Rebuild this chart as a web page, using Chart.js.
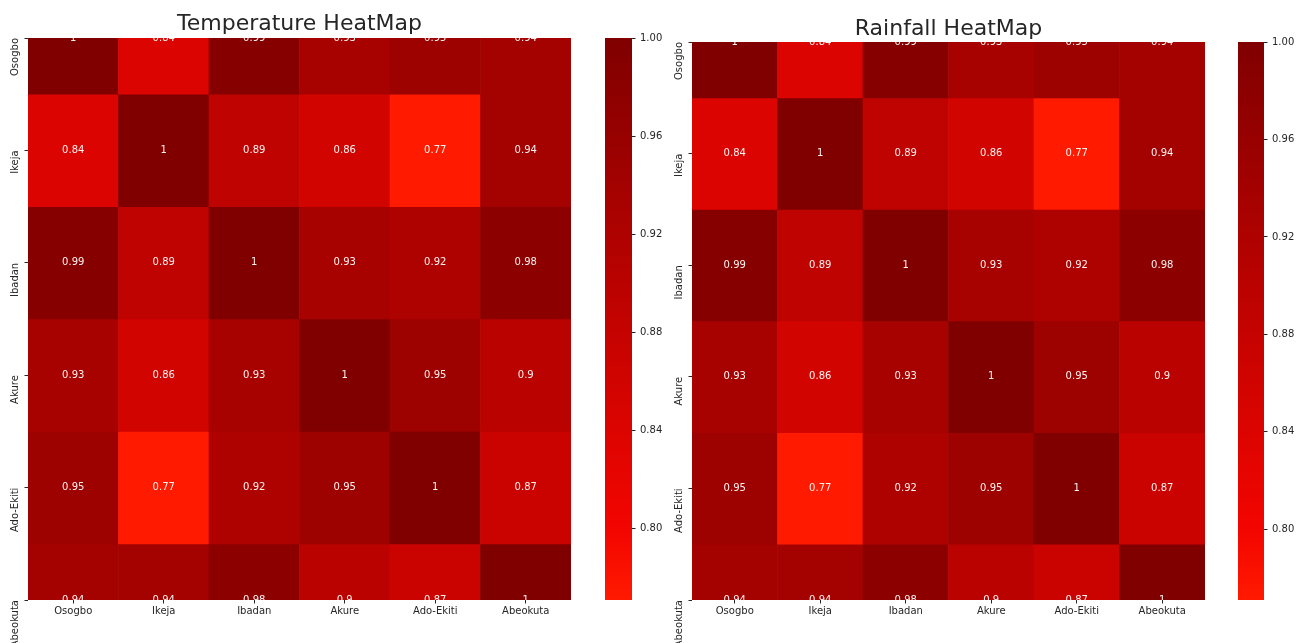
<!DOCTYPE html>
<html>
<head>
<meta charset="utf-8">
<script src="https://cdn.jsdelivr.net/npm/chart.js@4.4.1/dist/chart.umd.min.js"></script>
<style>
  html, body { margin: 0; padding: 0; background: #ffffff; }
  body { width: 1302px; height: 643px; position: relative; overflow: hidden; }
  canvas { position: absolute; top: 0; }
</style>
</head>
<body>
<canvas id="tempHeat" width="590" height="643" style="left:0px"></canvas>
<canvas id="tempBar" width="80" height="643" style="left:590px"></canvas>
<canvas id="rainHeat" width="575" height="643" style="left:650px"></canvas>
<canvas id="rainBar" width="77" height="643" style="left:1225px"></canvas>
<script>
// ---------------- data ----------------
const cities = ['Osogbo', 'Ikeja', 'Ibadan', 'Akure', 'Ado-Ekiti', 'Abeokuta'];

const tempOsogbo   = [1, 0.84, 0.99, 0.93, 0.95, 0.94];
const tempIkeja    = [0.84, 1, 0.89, 0.86, 0.77, 0.94];
const tempIbadan   = [0.99, 0.89, 1, 0.93, 0.92, 0.98];
const tempAkure    = [0.93, 0.86, 0.93, 1, 0.95, 0.9];
const tempAdoEkiti = [0.95, 0.77, 0.92, 0.95, 1, 0.87];
const tempAbeokuta = [0.94, 0.94, 0.98, 0.9, 0.87, 1];

const rainOsogbo   = [1, 0.84, 0.99, 0.93, 0.95, 0.94];
const rainIkeja    = [0.84, 1, 0.89, 0.86, 0.77, 0.94];
const rainIbadan   = [0.99, 0.89, 1, 0.93, 0.92, 0.98];
const rainAkure    = [0.93, 0.86, 0.93, 1, 0.95, 0.9];
const rainAdoEkiti = [0.95, 0.77, 0.92, 0.95, 1, 0.87];
const rainAbeokuta = [0.94, 0.94, 0.98, 0.9, 0.87, 1];

const colorbarTicks = [0.80, 0.84, 0.88, 0.92, 0.96, 1.00];
const colorbarMin = 0.771;
const colorbarMax = 1.0;

// ---------------- style ----------------
const FONT = "'DejaVu Sans', 'Liberation Sans', sans-serif";
const TEXT = '#262626';
Chart.defaults.font.family = FONT;
Chart.defaults.font.size = 10;
Chart.defaults.color = TEXT;

const CMAP_STOPS = [
  [0.771, [255, 26, 0]],
  [0.80,  [243, 5, 0]],
  [1.00,  [128, 0, 0]]
];
function rgb(c) { return 'rgb(' + c.map(Math.round).join(',') + ')'; }
function cmap(v) {
  if (v <= CMAP_STOPS[0][0]) return rgb(CMAP_STOPS[0][1]);
  for (let k = 1; k < CMAP_STOPS.length; k++) {
    const [v1, c1] = CMAP_STOPS[k];
    const [v0, c0] = CMAP_STOPS[k - 1];
    if (v <= v1) {
      const t = (v - v0) / (v1 - v0);
      return rgb(c0.map((x, i) => x + (c1[i] - x) * t));
    }
  }
  return rgb(CMAP_STOPS[CMAP_STOPS.length - 1][1]);
}

const cellLabels = {
  id: 'cellLabels',
  afterDatasetsDraw(chart) {
    const { ctx, chartArea: a } = chart;
    ctx.save();
    ctx.beginPath();
    ctx.rect(a.left, a.top, a.right - a.left, a.bottom - a.top);
    ctx.clip();
    ctx.font = '10px ' + FONT;
    ctx.fillStyle = 'rgba(255,255,255,0.95)';
    ctx.textAlign = 'center';
    ctx.textBaseline = 'middle';
    chart.data.datasets.forEach((ds, i) => {
      chart.getDatasetMeta(i).data.forEach((el, j) => {
        const p = el.getCenterPoint();
        ctx.fillText(String(ds.values[j]), p.x, p.y);
      });
    });
    ctx.restore();
  }
};

function heatmap(id, title, rows, opt) {
  const datasets = rows.map((row, i) => ({
    data: row.map(() => [i - 0.5, i + 0.5]),
    values: row,
    backgroundColor: row.map(cmap),
    grouped: false,
    barPercentage: 1,
    categoryPercentage: 1,
    borderWidth: 0,
    clip: 0
  }));
  return new Chart(document.getElementById(id), {
    type: 'bar',
    data: { labels: cities, datasets },
    plugins: [cellLabels],
    options: {
      responsive: false,
      animation: false,
      events: [],
      layout: { padding: { left: 0, right: opt.padRight, top: 0, bottom: 0 } },
      plugins: {
        legend: { display: false },
        tooltip: { enabled: false },
        title: {
          display: true,
          text: title,
          fullSize: false,
          color: TEXT,
          font: { size: 22, lineHeight: 1, weight: 'normal' },
          padding: { top: opt.titleTop, bottom: opt.titleBottom }
        }
      },
      scales: {
        x: {
          type: 'category',
          offset: true,
          grid: { display: true, offset: false, drawOnChartArea: false, drawTicks: true, tickLength: 3.5, color: TEXT, tickColor: TEXT, lineWidth: 1 },
          border: { display: false },
          ticks: { color: TEXT, padding: 2, maxRotation: 0, minRotation: 0, autoSkip: false, font: { size: 10 } },
          afterFit: (s) => { s.height = 43; }
        },
        y: {
          type: 'linear',
          min: 0,
          max: 5,
          reverse: true,
          afterBuildTicks: (s) => { s.ticks = cities.map((c, i) => ({ value: i })); },
          grid: { display: true, drawOnChartArea: false, drawTicks: true, tickLength: 3.5, color: TEXT, tickColor: TEXT, lineWidth: 1 },
          border: { display: false },
          ticks: {
            color: TEXT,
            padding: 9,
            minRotation: 90,
            maxRotation: 90,
            crossAlign: 'near',
            autoSkip: false,
            font: { size: 10 },
            callback: (v) => cities[v]
          },
          afterFit: (s) => { s.width = opt.yWidth; }
        }
      }
    }
  });
}

function colorbar(id, opt) {
  return new Chart(document.getElementById(id), {
    type: 'bar',
    data: {
      labels: [''],
      datasets: [{
        data: [[colorbarMin, colorbarMax]],
        barPercentage: 1,
        categoryPercentage: 1,
        borderWidth: 0,
        backgroundColor: (c) => {
          const ch = c.chart;
          if (!ch.chartArea) return cmap(colorbarMax);
          const ys = ch.scales.y;
          const y0 = ys.getPixelForValue(colorbarMin);
          const y1 = ys.getPixelForValue(colorbarMax);
          const g = ch.ctx.createLinearGradient(0, y0, 0, y1);
          CMAP_STOPS.forEach(([v, col]) => {
            const t = Math.min(1, Math.max(0, (v - colorbarMin) / (colorbarMax - colorbarMin)));
            g.addColorStop(t, rgb(col));
          });
          return g;
        }
      }]
    },
    options: {
      responsive: false,
      animation: false,
      events: [],
      layout: { padding: { left: opt.padLeft, right: 0, top: opt.top, bottom: 43 } },
      plugins: { legend: { display: false }, tooltip: { enabled: false } },
      scales: {
        x: { display: false },
        y: {
          position: 'right',
          min: colorbarMin,
          max: colorbarMax,
          afterBuildTicks: (s) => { s.ticks = colorbarTicks.map(v => ({ value: v })); },
          grid: { display: true, drawOnChartArea: false, drawTicks: true, tickLength: 3.5, color: TEXT, tickColor: TEXT, lineWidth: 1 },
          border: { display: false },
          ticks: { color: TEXT, padding: 4.5, font: { size: 10 }, callback: (v) => Number(v).toFixed(2) },
          afterFit: (s) => { s.width = 38; }
        }
      }
    }
  });
}

heatmap('tempHeat', 'Temperature HeatMap',
  [tempOsogbo, tempIkeja, tempIbadan, tempAkure, tempAdoEkiti, tempAbeokuta],
  { padRight: 19, yWidth: 28, titleTop: 13.7, titleBottom: 2.3 });
colorbar('tempBar', { padLeft: 15, top: 38 });

heatmap('rainHeat', 'Rainfall HeatMap',
  [rainOsogbo, rainIkeja, rainIbadan, rainAkure, rainAdoEkiti, rainAbeokuta],
  { padRight: 20, yWidth: 42, titleTop: 18.7, titleBottom: 1.3 });
colorbar('rainBar', { padLeft: 13, top: 42 });
</script>
</body>
</html>
